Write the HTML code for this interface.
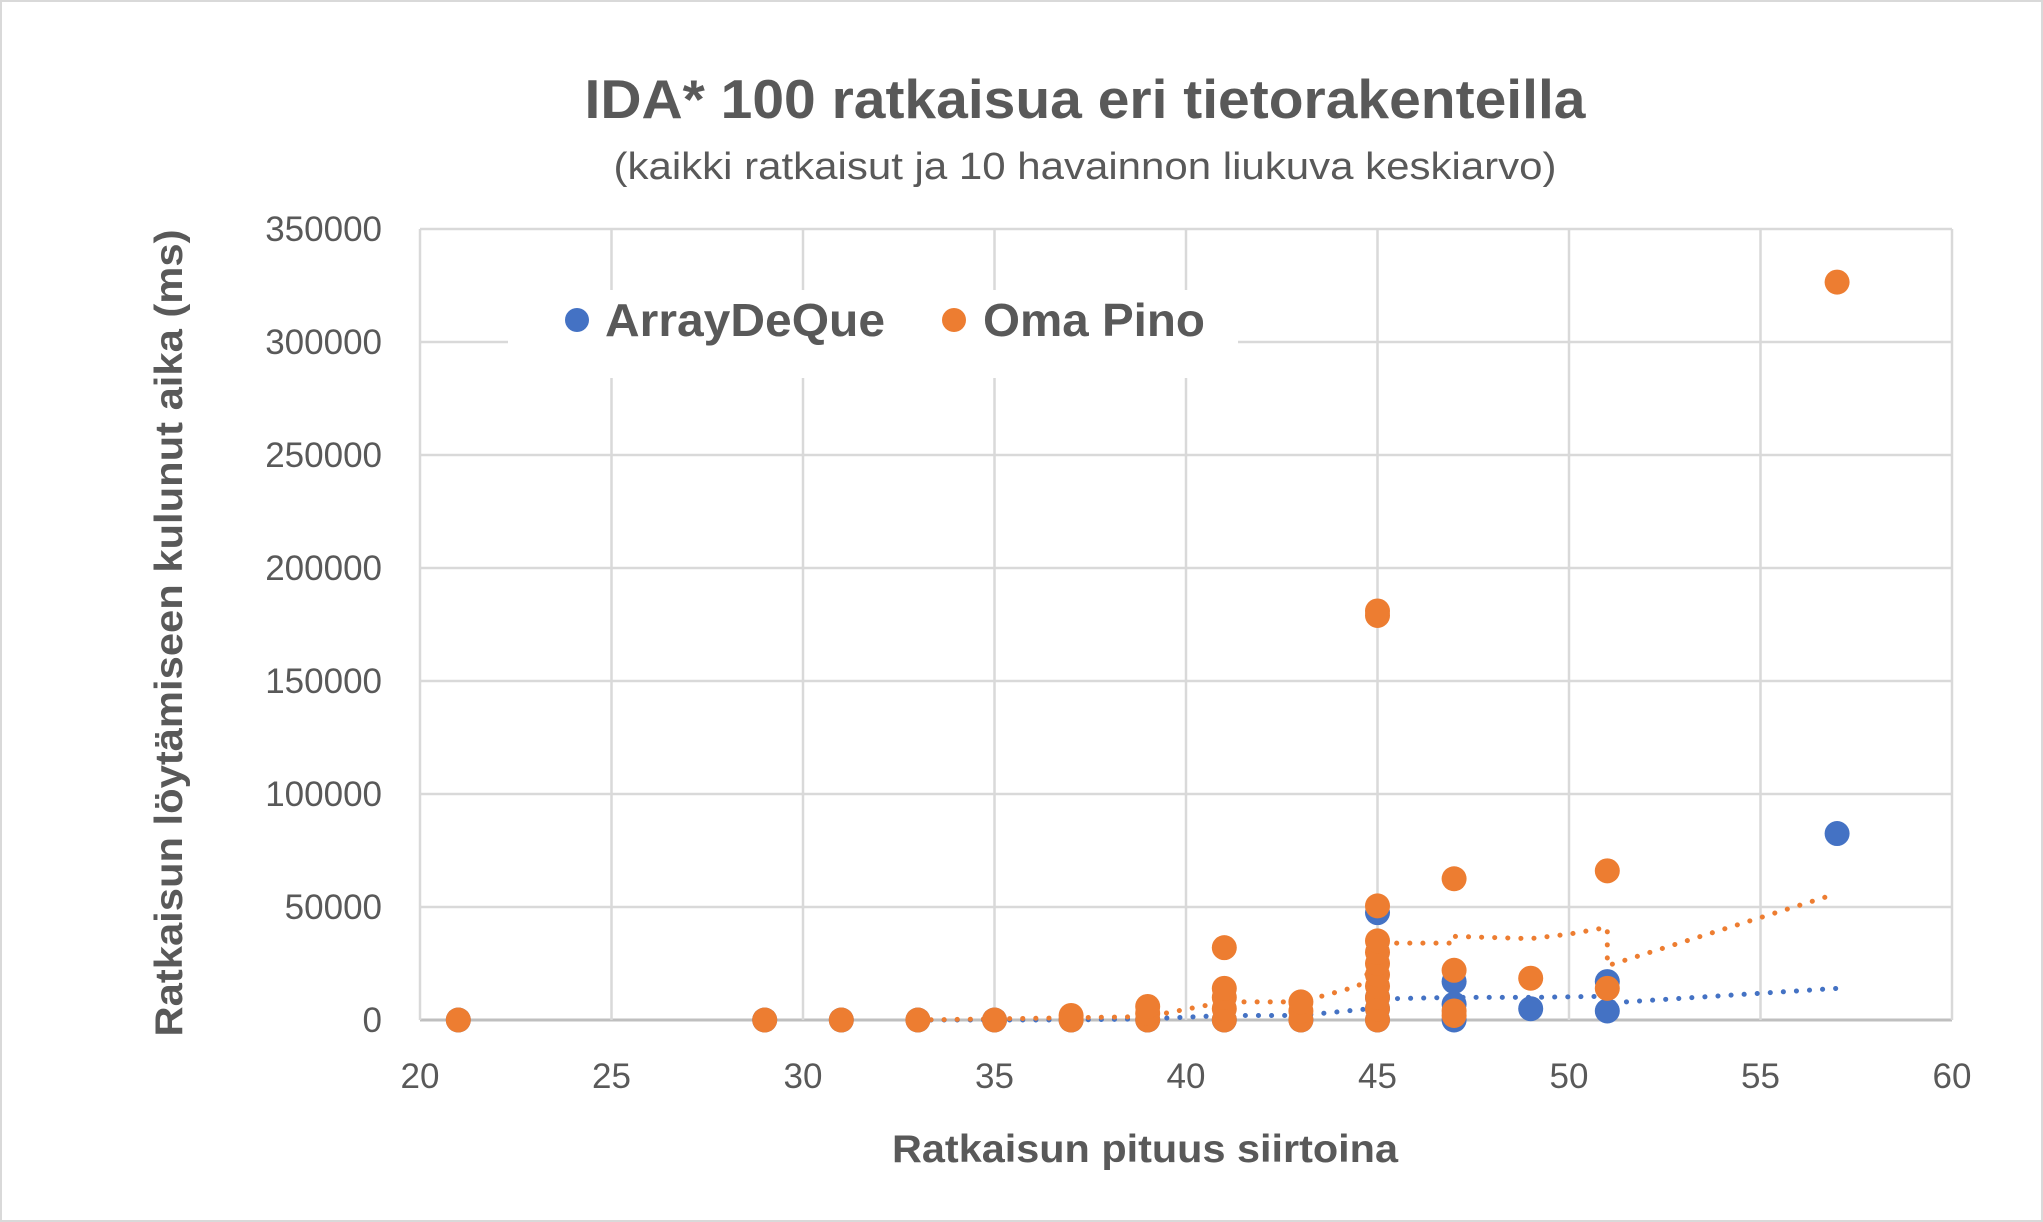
<!DOCTYPE html>
<html><head><meta charset="utf-8"><style>
html,body{margin:0;padding:0;background:#fff}
svg{display:block;font-family:"Liberation Sans","DejaVu Sans",sans-serif}
</style></head><body>
<svg id="chart" width="2043" height="1222" viewBox="0 0 2043 1222">
<rect x="1" y="1" width="2041" height="1220" fill="#fff" stroke="#d9d9d9" stroke-width="2"/>
<text x="1085" y="118" text-anchor="middle" font-size="55" font-weight="bold" fill="#595959" textLength="1001" lengthAdjust="spacingAndGlyphs">IDA* 100 ratkaisua eri tietorakenteilla</text>
<text x="1085" y="179" text-anchor="middle" font-size="38" fill="#595959" textLength="943" lengthAdjust="spacingAndGlyphs">(kaikki ratkaisut ja 10 havainnon liukuva keskiarvo)</text>
<g id="grid"></g>
<g id="trends"></g>
<g id="points"></g>
<rect x="508" y="290" width="730" height="88" fill="#fff"/>
<g>
<circle cx="577" cy="320" r="12" fill="#4472C4"/>
<text x="605" y="336" font-size="46" font-weight="bold" fill="#595959" textLength="280" lengthAdjust="spacingAndGlyphs">ArrayDeQue</text>
<circle cx="954" cy="320" r="12" fill="#ED7D31"/>
<text x="983" y="336" font-size="46" font-weight="bold" fill="#595959" textLength="222" lengthAdjust="spacingAndGlyphs">Oma Pino</text>
</g>
<text x="1145" y="1162" text-anchor="middle" font-size="39" font-weight="bold" fill="#595959" textLength="506" lengthAdjust="spacingAndGlyphs">Ratkaisun pituus siirtoina</text>
<text transform="translate(182,633) rotate(-90)" text-anchor="middle" font-size="39" font-weight="bold" fill="#595959" textLength="807" lengthAdjust="spacingAndGlyphs">Ratkaisun löytämiseen kulunut aika (ms)</text>
</svg>
<script>
const xTicks=[20,25,30,35,40,45,50,55,60];
const yTicks=[0,50000,100000,150000,200000,250000,300000,350000];
const orangeX=[21,29,31,33,35,37,37,39,39,39,41,41,41,41,41,43,43,43,45,45,45,45,45,45,45,45,45,45,45,47,47,47,47,49,51,51,57];
const orangeY=[0,0,0,0,0,0,2000,0,3000,6000,0,5000,10000,14000,32000,0,4000,8000,0,5000,10000,15000,20000,25000,30000,35000,50500,179000,181000,2000,4000,22000,62500,18500,14000,66000,326500];
const blueX=[21,29,31,33,35,37,39,41,43,45,45,45,45,47,47,47,49,51,51,57];
const blueY=[0,0,0,0,0,0,0,0,0,0,5000,10000,47500,0,7000,17000,5000,4000,17000,82500];
const orangeTrendX=[33,35,37,39,41,43,44.5,44.8,45,46,47,47,49,50,51,51,51,57];
const orangeTrendY=[0,500,1000,1500,8000,8000,15000,22000,34000,34000,34000,37000,36000,38000,41000,28000,24000,56000];
const blueTrendX=[33,37,39,41,43,44.8,45,47,49,51,51,57];
const blueTrendY=[0,0,500,2000,2000,5000,9300,10000,10000,10500,7500,14000];
const NS='http://www.w3.org/2000/svg';
const L=420,R=1952,T=229,B=1020;
const sx=v=>L+(v-20)/40*(R-L);
const sy=v=>B-v/350000*(B-T);
function mk(tag,attrs,parent){const e=document.createElementNS(NS,tag);for(const k in attrs)e.setAttribute(k,attrs[k]);parent.appendChild(e);return e;}
const grid=document.getElementById('grid');
yTicks.forEach(v=>{
  const ln=mk('line',{x1:L,x2:R,y1:sy(v),y2:sy(v),stroke:v===0?'#bfbfbf':'#d9d9d9','stroke-width':v===0?3:2.5},grid);
  
  
  const t=mk('text',{x:382,y:sy(v)+12,'text-anchor':'end','font-size':35,fill:'#595959'},grid);
  t.textContent=v;
  
  
});
xTicks.forEach(v=>{
  const ln=mk('line',{x1:sx(v),x2:sx(v),y1:T,y2:B,stroke:'#d9d9d9','stroke-width':2.5},grid);
  
  
  const t=mk('text',{x:sx(v),y:1088,'text-anchor':'middle','font-size':35,fill:'#595959'},grid);
  t.textContent=v;
  
  
});
const tr=document.getElementById('trends');
function trend(xs,ys,c,name){
  const p=mk('polyline',{points:xs.map((x,i)=>sx(x)+','+sy(ys[i])).join(' '),fill:'none',stroke:c,'stroke-width':5,'stroke-dasharray':'0.1 13','stroke-linecap':'round'},tr);
  
  
}
trend(blueTrendX,blueTrendY,'#4472C4','arraydeque-moving-average');
trend(orangeTrendX,orangeTrendY,'#ED7D31','oma-pino-moving-average');
const pts=document.getElementById('points');
blueX.forEach((x,i)=>{
  const c=mk('circle',{cx:sx(x),cy:sy(blueY[i]),r:12.5,fill:'#4472C4'},pts);
  
  
});
orangeX.forEach((x,i)=>{
  const c=mk('circle',{cx:sx(x),cy:sy(orangeY[i]),r:12.5,fill:'#ED7D31'},pts);
  
  
});
</script>
</body></html>
